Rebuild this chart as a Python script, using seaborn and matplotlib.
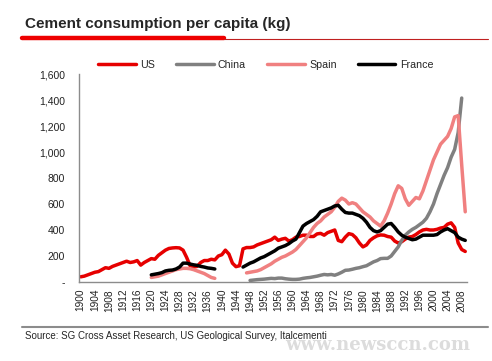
import pandas as pd
import matplotlib.pyplot as plt
from matplotlib.lines import Line2D
import seaborn as sns

# Cement consumption per capita (kg)
us_years = list(range(1900, 2010))
us_values = [40, 45, 55, 65, 75, 80, 95, 110, 105, 120,
             130, 140, 150, 160, 150, 155, 165, 130, 150, 165,
             180, 175, 205, 225, 245, 258, 262, 264, 262, 245,
             190, 125, 115, 120, 150, 165, 165, 175, 170, 200,
             210, 245, 215, 145, 118, 125, 255, 265, 265, 270,
             285, 295, 305, 315, 325, 345, 320, 330, 336, 315,
             325, 345, 350, 360, 360, 350, 350, 370, 374, 360,
             380, 390, 400, 320, 310, 345, 372, 365, 340, 300,
             270, 285, 320, 340, 355, 362, 360, 350, 345, 315,
             300, 310, 330, 345, 350, 365, 385, 400, 405, 400,
             400, 405, 415, 420, 445, 455, 420, 300, 250, 235]

china_years = list(range(1948, 2009))
china_values = [12, 15, 18, 20, 22, 25, 28, 26, 30, 30,
                25, 22, 20, 20, 22, 28, 32, 35, 40, 45,
                52, 58, 55, 58, 52, 62, 75, 90, 92, 98,
                105, 110, 118, 125, 140, 155, 165, 180, 182, 182,
                200, 235, 270, 320, 360, 385, 405, 420, 440, 460,
                490, 540, 600, 680, 750, 820, 880, 960, 1020, 1150,
                1415]

spain_pre_years = list(range(1920, 1939))
spain_pre_values = [35, 40, 45, 55, 65, 75, 85, 95, 100, 105,
                    105, 102, 95, 85, 75, 65, 50, 35, 28]
spain_post_years = list(range(1947, 2010))
spain_post_values = [70, 75, 80, 85, 95, 110, 125, 140, 160, 175,
                     190, 200, 215, 230, 250, 280, 310, 340, 380, 420,
                     450, 470, 500, 520, 540, 575, 620, 645, 630, 600,
                     610, 600, 570, 540, 520, 500, 470, 450, 430, 470,
                     530, 600, 680, 740, 720, 640, 590, 620, 650, 640,
                     700, 780, 860, 940, 1000, 1060, 1090, 1120, 1180, 1270,
                     1280, 900, 540]

france_pre_years = list(range(1920, 1939))
france_pre_values = [55, 60, 65, 72, 85, 90, 92, 100, 115, 145,
                     145, 138, 132, 128, 120, 115, 108, 105, 100]
france_post_years = list(range(1946, 2010))
france_post_values = [115, 130, 145, 155, 170, 185, 195, 210, 225, 240,
                      260, 270, 280, 295, 315, 330, 380, 430, 450, 465,
                      480, 505, 540, 550, 560, 570, 585, 590, 560, 535,
                      530, 530, 520, 510, 490, 460, 420, 395, 385, 395,
                      420, 445, 450, 420, 385, 360, 345, 335, 325, 330,
                      345, 360, 360, 360, 360, 365, 385, 400, 410, 395,
                      380, 345, 330, 320]

countries = ['US', 'China', 'Spain', 'France']
colors = {'US': '#e60000', 'China': '#808080', 'Spain': '#f08080', 'France': '#000000'}
x_ticks = list(range(1900, 2009, 4))
y_ticks = list(range(0, 1601, 200))


def segment(name, part, years, values):
    return pd.DataFrame({'year': years, 'kg': values, 'country': name, 'part': part})


data = pd.concat([
    segment('US', 0, us_years, us_values),
    segment('China', 0, china_years, china_values),
    segment('Spain', 0, spain_pre_years, spain_pre_values),
    segment('Spain', 1, spain_post_years, spain_post_values),
    segment('France', 0, france_pre_years, france_pre_values),
    segment('France', 1, france_post_years, france_post_values),
], ignore_index=True)

sns.set_style('white')
plt.rcParams['font.family'] = ['Liberation Sans', 'DejaVu Sans']

fig = plt.figure(figsize=(4.92, 3.61), dpi=100)
ax = fig.add_axes([79 / 492, 1 - 282 / 361, 388 / 492, 208 / 361])

sns.lineplot(data=data, x='year', y='kg', hue='country', units='part',
             estimator=None, hue_order=countries, palette=colors,
             linewidth=2.5, ax=ax)

ax.set_xlim(1899.5, 2009.5)
ax.set_ylim(0, 1600)
ax.set_xticks(x_ticks)
ax.set_xticklabels([str(y) for y in x_ticks], rotation=90, fontsize=7.3)
ax.set_yticks(y_ticks)
ax.set_yticklabels(['-'] + [f'{v:,}' for v in y_ticks[1:]], fontsize=7.5)
ax.tick_params(axis='both', length=0, colors='#222222')
ax.tick_params(axis='y', pad=10)
ax.tick_params(axis='x', pad=5)
ax.set_xlabel('')
ax.set_ylabel('')
for side in ['top', 'right']:
    ax.spines[side].set_visible(False)
for side in ['left', 'bottom']:
    ax.spines[side].set_color('#8c8c8c')
    ax.spines[side].set_linewidth(1)

handles, labels = ax.get_legend_handles_labels()
ax.get_legend().remove()
fig.legend(handles, labels, loc='center', bbox_to_anchor=(0.54, 1 - 65 / 361),
           ncol=4, frameon=False, fontsize=7.7, handlelength=3.5,
           handletextpad=0.4, columnspacing=2.0)

# title with red underline
fig.text(25 / 492, 1 - 24 / 361, 'Cement consumption per capita (kg)',
         fontsize=11, fontweight='bold', va='center', ha='left')
fig.add_artist(Line2D([22 / 492, 224 / 492], [1 - 38 / 361, 1 - 38 / 361],
                      color='#ee0000', linewidth=3.2, transform=fig.transFigure))
fig.add_artist(Line2D([224 / 492, 488 / 492], [1 - 39 / 361, 1 - 39 / 361],
                      color='#c02020', linewidth=0.8, transform=fig.transFigure))

# source footer
fig.add_artist(Line2D([22 / 492, 488 / 492], [1 - 327 / 361, 1 - 327 / 361],
                      color='#8c8c8c', linewidth=1.5, transform=fig.transFigure))
fig.text(25 / 492, 1 - 336 / 361,
         'Source: SG Cross Asset Research, US Geological Survey, Italcementi',
         fontsize=7, va='center', ha='left')
fig.text(470 / 492, 1 - 345 / 361, 'www.newsccn.com', fontsize=13,
         fontweight='bold', family='DejaVu Serif', color='#dcdcdc',
         va='center', ha='right')

fig.savefig('out.png', dpi=100)
